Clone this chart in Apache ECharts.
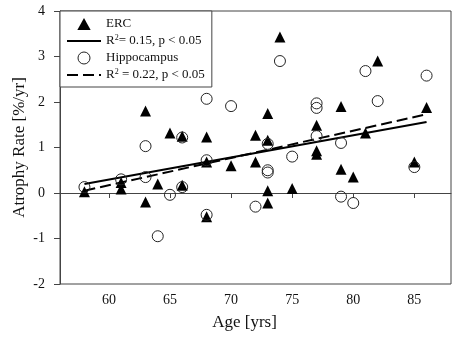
<!DOCTYPE html>
<html>
<head>
<meta charset="utf-8">
<script src="https://cdn.jsdelivr.net/npm/echarts@6/dist/echarts.min.js"></script>
<style>
  html, body { margin: 0; padding: 0; background: #fff; }
  #chart { width: 459px; height: 340px; }
</style>
</head>
<body>
<div id="chart"></div>
<script>
// ERC atrophy rate per subject
const ercAge = [58, 61, 61, 63, 63, 64, 65, 66, 66, 68, 68, 68, 70, 72, 72, 73, 73, 73, 73, 74, 75, 77, 77, 77, 79, 79, 80, 81, 82, 85, 86];
const ercRate = [0.03, 0.23, 0.09, 1.8, -0.2, 0.2, 1.32, 1.25, 0.17, 1.23, 0.68, -0.52, 0.6, 1.27, 0.68, 1.75, 1.16, 0.05, -0.22, 3.43, 0.1, 1.49, 0.93, 0.85, 1.9, 0.52, 0.35, 1.32, 2.9, 0.68, 1.88];

// Hippocampus atrophy rate per subject
const hipAge = [58, 61, 63, 63, 64, 65, 66, 66, 68, 68, 68, 70, 72, 73, 73, 73, 74, 75, 77, 77, 77, 79, 79, 80, 81, 82, 85, 86];
const hipRate = [0.13, 0.3, 0.35, 1.03, -0.95, -0.04, 1.22, 0.13, 2.07, 0.72, -0.48, 1.91, -0.3, 1.08, 0.45, 0.5, 2.9, 0.8, 1.97, 1.87, 1.25, 1.1, -0.08, -0.22, 2.68, 2.02, 0.57, 2.58];

// fitted lines (end points)
const fitAge = [58, 86];
const ercFit = [0.2, 1.56];
const hipFit = [0.05, 1.73];

const xTicks = [60, 65, 70, 75, 80, 85];

const zip = (a, b) => a.map((v, i) => [v, b[i]]);

const myChart = echarts.init(document.getElementById('chart'));
const serif = 'Liberation Serif';
const hideSym = { color: 'rgba(0,0,0,0)', borderWidth: 0 };

const option = {
  animation: false,
  textStyle: { fontFamily: serif },
  grid: {
    left: 60, right: 8, top: 11, bottom: 56,
    outerBoundsMode: 'none',
    show: true, borderColor: '#444', borderWidth: 1
  },
  legend: {
    orient: 'vertical',
    left: 60, top: 11,
    padding: [6, 7, 5, 6],
    itemGap: 3,
    itemWidth: 34,
    itemHeight: 12,
    symbolKeepAspect: true,
    borderColor: '#444',
    borderWidth: 1,
    backgroundColor: '#fff',
    data: [
      { name: 'ERC', icon: 'path://M5,0 L10,9 L0,9 Z' },
      { name: 'ERC fit', itemStyle: hideSym },
      { name: 'Hippocampus', icon: 'path://M5,0 A5,5 0 1 1 4.99,0 Z', itemStyle: { color: 'rgba(255,255,255,0)', borderColor: '#222', borderWidth: 1 } },
      { name: 'Hippocampus fit', itemStyle: hideSym }
    ],
    textStyle: {
      fontFamily: serif, fontSize: 13, color: '#111', lineHeight: 14,
      rich: {
        t: { fontFamily: serif, fontSize: 13, color: '#111' },
        s: { fontFamily: serif, fontSize: 8, color: '#111', verticalAlign: 'top', padding: [0, 0, 7, 0] }
      }
    },
    formatter: function (name) {
      if (name === 'ERC fit') return '{t|R}{s|2}{t|= 0.15, p < 0.05}';
      if (name === 'Hippocampus fit') return '{t|R}{s|2}{t| = 0.22, p < 0.05}';
      return name;
    }
  },
  xAxis: {
    type: 'value',
    min: 56, max: 88,
    name: 'Age [yrs]',
    nameLocation: 'middle',
    nameGap: 30,
    nameMoveOverlap: false,
    nameTextStyle: { fontFamily: serif, fontSize: 17, color: '#111', padding: [0, 22, 0, 0] },
    axisLine: { lineStyle: { color: '#444' } },
    axisTick: { customValues: xTicks, length: 5, lineStyle: { color: '#444' } },
    axisLabel: { customValues: xTicks, fontFamily: serif, fontSize: 14, color: '#111', margin: 9 },
    splitLine: { show: false }
  },
  yAxis: {
    type: 'value',
    min: -2, max: 4, interval: 1,
    name: 'Atrophy Rate [%/yr]',
    nameLocation: 'middle',
    nameGap: 32,
    nameMoveOverlap: false,
    nameTextStyle: { fontFamily: serif, fontSize: 17, color: '#111' },
    axisLine: { show: true, lineStyle: { color: '#444' } },
    axisTick: { show: true, length: 6, lineStyle: { color: '#444' } },
    axisLabel: { fontFamily: serif, fontSize: 14, color: '#111', margin: 15 },
    splitLine: { show: false }
  },
  series: [
    {
      name: 'ERC fit',
      type: 'line',
      data: zip(fitAge, ercFit),
      symbol: 'none',
      lineStyle: { color: '#000', width: 2 },
      itemStyle: { color: '#000' },
      z: 3
    },
    {
      name: 'Hippocampus fit',
      type: 'line',
      data: zip(fitAge, hipFit),
      symbol: 'none',
      lineStyle: { color: '#000', width: 2, type: [11, 5] },
      itemStyle: { color: '#000' },
      z: 3
    },
    {
      name: 'ERC',
      type: 'scatter',
      symbol: 'triangle',
      symbolSize: 11,
      data: zip(ercAge, ercRate),
      itemStyle: { color: '#000', opacity: 1 },
      z: 4
    },
    {
      name: 'Hippocampus',
      type: 'scatter',
      symbol: 'circle',
      symbolSize: 11,
      data: zip(hipAge, hipRate),
      itemStyle: { color: 'rgba(255,255,255,0)', borderColor: '#222', borderWidth: 1, opacity: 1 },
      z: 5
    }
  ]
};

myChart.setOption(option);
</script>
</body>
</html>
